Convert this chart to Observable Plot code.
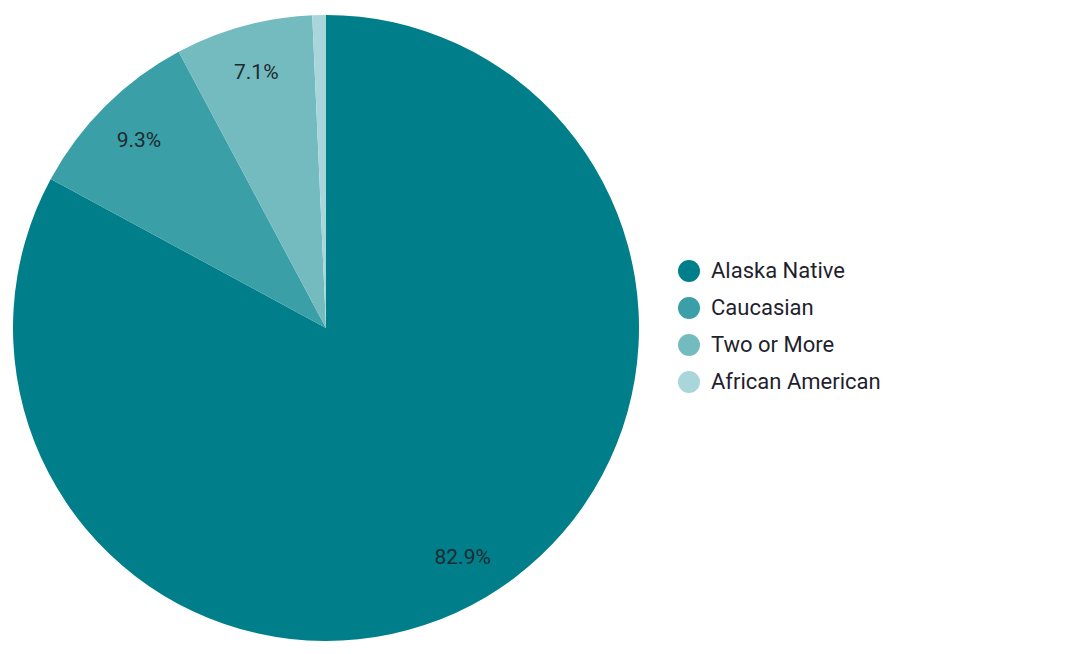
<!DOCTYPE html>
<html>
<head>
<meta charset="utf-8">
<script src="https://cdn.jsdelivr.net/npm/d3@7"></script>
<script src="https://cdn.jsdelivr.net/npm/@observablehq/plot@0.6"></script>
<style>
  html, body { margin: 0; padding: 0; background: #fff; }
  #wrap { position: relative; width: 1078px; height: 654px; font-family: Roboto, "Noto Sans", sans-serif; }
  #legend { position: absolute; left: 678px; top: 252px; }
  .item { display: flex; align-items: center; height: 37px; font-size: 22px; color: #1f1f2e; }
  .sw { width: 22px; height: 22px; border-radius: 50%; margin-right: 11px; }
</style>
</head>
<body>
<div id="wrap"><div id="chart"></div><div id="legend"></div></div>
<script>
const categories = ["Alaska Native", "Caucasian", "Two or More", "African American"];
const values = [82.9, 9.3, 7.1, 0.7];
const labels = ["82.9%", "9.3%", "7.1%", ""];
const colors = ["#007f8a", "#3a9fa6", "#74bbc0", "#a8d6da"];

const data = categories.map((c, i) => ({category: c, value: values[i], label: labels[i]}));
const arcs = d3.pie().sort(null).value(d => d.value)(data);
const labelR = 0.85;
const labelPts = arcs.map(a => {
  const m = (a.startAngle + a.endAngle) / 2;
  return {label: a.data.label, x: labelR * Math.sin(m), y: labelR * Math.cos(m)};
});

function pieMark(index, scales, values, dimensions) {
  const cx = scales.x(0), cy = scales.y(0);
  const r = scales.x(1) - scales.x(0);
  const arc = d3.arc().innerRadius(0).outerRadius(r);
  const g = d3.create("svg:g").attr("transform", `translate(${cx},${cy})`);
  g.selectAll("path").data(arcs).join("path")
    .attr("d", arc)
    .attr("fill", d => scales.color(d.data.category));
  return g.node();
}

const chart = Plot.plot({
  width: 1078,
  height: 654,
  marginLeft: 13,
  marginRight: 439,
  marginTop: 15,
  marginBottom: 13,
  x: {domain: [-1, 1], axis: null},
  y: {domain: [-1, 1], axis: null},
  color: {domain: categories, range: colors},
  style: {fontFamily: "Roboto, 'Noto Sans', sans-serif", background: "#fff"},
  marks: [
    pieMark,
    Plot.text(labelPts, {x: "x", y: "y", text: "label", fontSize: 21, fill: "#1f2a30"})
  ]
});
document.getElementById("chart").appendChild(chart);

const legend = d3.select("#legend");
categories.forEach((c, i) => {
  const it = legend.append("div").attr("class", "item");
  it.append("div").attr("class", "sw").style("background", colors[i]);
  it.append("span").text(c);
});
</script>
</body>
</html>
